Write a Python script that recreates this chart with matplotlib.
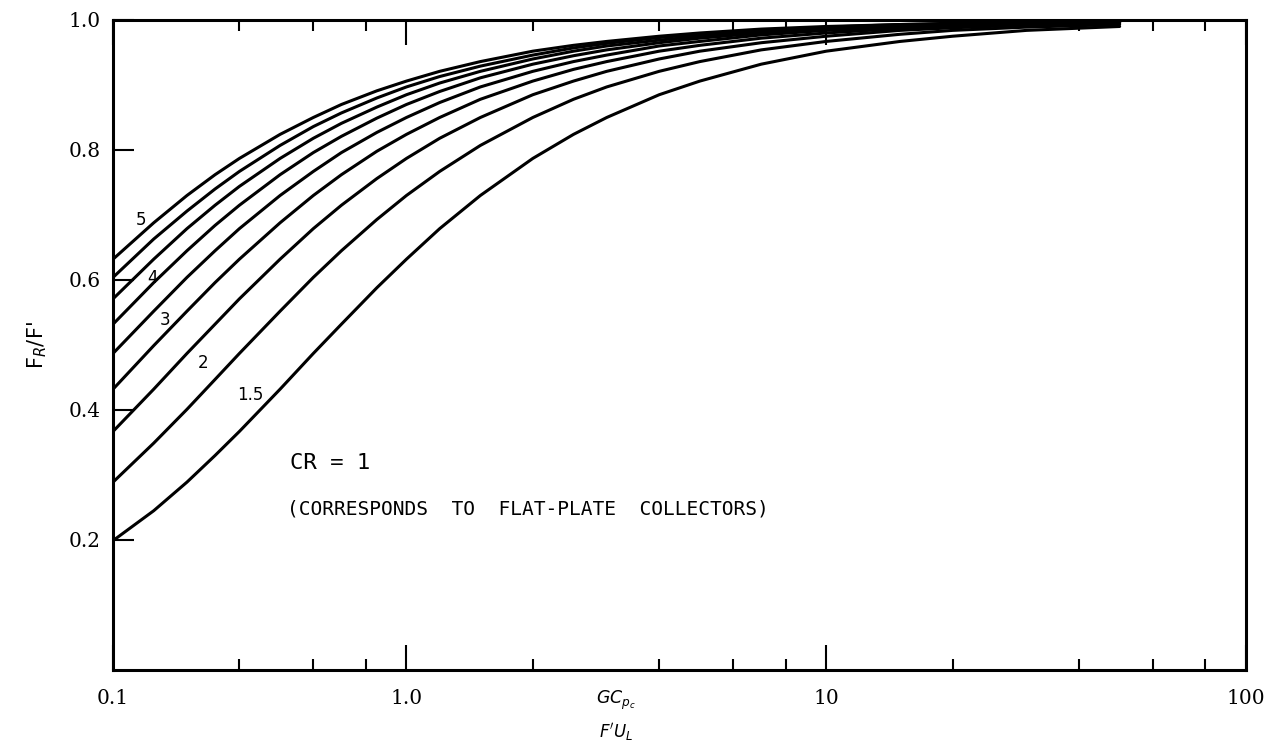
import matplotlib
matplotlib.use("Agg")
import matplotlib.pyplot as plt
from matplotlib.ticker import FixedLocator, NullFormatter

# GCp/(F'U_L) values where the curves were read
x_vals = [0.2, 0.25, 0.3, 0.35, 0.4, 0.5, 0.6, 0.7, 0.85, 1.0, 1.2, 1.5,
          2, 2.5, 3, 4, 5, 7, 10, 15, 20, 30, 50]

# F_R/F', one list per concentration ratio
cr_1 = [0.199, 0.245, 0.289, 0.330, 0.367, 0.432, 0.487, 0.532, 0.588, 0.632, 0.679, 0.730,
        0.787, 0.824, 0.850, 0.885, 0.906, 0.932, 0.952, 0.967, 0.975, 0.984, 0.990]
cr_15 = [0.289, 0.349, 0.401, 0.447, 0.487, 0.552, 0.604, 0.645, 0.693, 0.730, 0.767, 0.807,
         0.850, 0.878, 0.897, 0.921, 0.936, 0.954, 0.967, 0.978, 0.984, 0.989, 0.993]
cr_2 = [0.367, 0.432, 0.487, 0.532, 0.571, 0.632, 0.679, 0.715, 0.756, 0.787, 0.818, 0.850,
        0.885, 0.906, 0.921, 0.940, 0.952, 0.965, 0.975, 0.984, 0.988, 0.992, 0.995]
cr_25 = [0.432, 0.499, 0.552, 0.596, 0.632, 0.688, 0.730, 0.762, 0.798, 0.824, 0.850, 0.878,
         0.906, 0.924, 0.936, 0.952, 0.961, 0.972, 0.980, 0.987, 0.990, 0.993, 0.996]
cr_3 = [0.487, 0.552, 0.604, 0.645, 0.679, 0.730, 0.767, 0.796, 0.827, 0.850, 0.873, 0.897,
        0.921, 0.936, 0.946, 0.960, 0.967, 0.977, 0.984, 0.989, 0.992, 0.994, 0.997]
cr_35 = [0.532, 0.596, 0.645, 0.684, 0.715, 0.762, 0.796, 0.821, 0.849, 0.870, 0.890, 0.911,
         0.932, 0.945, 0.954, 0.965, 0.972, 0.980, 0.986, 0.991, 0.993, 0.995, 0.997]
cr_4 = [0.571, 0.632, 0.679, 0.715, 0.744, 0.787, 0.818, 0.841, 0.866, 0.885, 0.903, 0.921,
        0.940, 0.952, 0.960, 0.969, 0.975, 0.982, 0.988, 0.992, 0.994, 0.996, 0.998]
cr_45 = [0.604, 0.663, 0.706, 0.740, 0.767, 0.807, 0.836, 0.857, 0.880, 0.897, 0.913, 0.929,
         0.946, 0.957, 0.964, 0.973, 0.978, 0.984, 0.989, 0.993, 0.994, 0.996, 0.998]
cr_5 = [0.632, 0.688, 0.730, 0.762, 0.787, 0.824, 0.850, 0.870, 0.891, 0.906, 0.921, 0.936,
        0.952, 0.961, 0.967, 0.975, 0.980, 0.986, 0.990, 0.993, 0.995, 0.997, 0.998]

curves = [cr_1, cr_15, cr_2, cr_25, cr_3, cr_35, cr_4, cr_45, cr_5]

# tick labels as printed on the original
x_major = [0.2, 1, 10, 100]
x_major_labels = ["0.1", "1.0", "10", "100"]
x_minor = [0.4, 0.6, 0.8, 2, 4, 6, 8, 20, 40, 60, 80]
y_major = [0.2, 0.4, 0.6, 0.8, 1.0]
y_major_labels = ["0.2", "0.4", "0.6", "0.8", "1.0"]

# curve labels: text, x, y
curve_labels = [("5", 0.226, 0.692), ("4", 0.241, 0.603), ("3", 0.259, 0.538),
                ("2", 0.319, 0.472), ("1.5", 0.395, 0.423)]

fig = plt.figure(figsize=(12.76, 7.51), dpi=100)
ax = fig.add_axes([0.0886, 0.1079, 0.8879, 0.8655])

for c in curves:
    ax.plot(x_vals, c, color="black", lw=2.2, solid_capstyle="round")

ax.set_xscale("log")
ax.set_xlim(0.2, 100)
ax.set_ylim(0, 1.0)

ax.xaxis.set_major_locator(FixedLocator(x_major))
ax.set_xticklabels(x_major_labels, family="DejaVu Serif", fontsize=14.5)
ax.xaxis.set_minor_locator(FixedLocator(x_minor))
ax.xaxis.set_minor_formatter(NullFormatter())
ax.set_yticks(y_major)
ax.set_yticklabels(y_major_labels, family="DejaVu Serif", fontsize=14.5)

ax.tick_params(axis="x", which="major", direction="in", length=18, width=1.5,
               top=True, pad=14)
ax.tick_params(axis="x", which="minor", direction="in", length=8, width=1.5, top=True)
ax.tick_params(axis="y", which="major", direction="in", length=15, width=1.5, pad=9)
ax.tick_params(axis="y", which="minor", left=False, right=False)

for s in ax.spines.values():
    s.set_linewidth(2.2)

for txt, tx, ty in curve_labels:
    ax.text(tx, ty, txt, fontsize=12, ha="left", va="center")

ax.text(0.528, 0.318, "CR = 1", fontsize=16, ha="left", va="center",
        family="DejaVu Sans Mono")
ax.text(0.52, 0.248, "(CORRESPONDS  TO  FLAT-PLATE  COLLECTORS)", fontsize=14,
        ha="left", va="center", family="DejaVu Sans Mono")

ax.set_ylabel("F$_R$/F'", fontsize=15, labelpad=14)

fig.text(0.483, 0.068, "$GC_{p_c}$", fontsize=12.5, ha="center", va="center")
fig.text(0.483, 0.025, "$F'U_L$", fontsize=12, ha="center", va="center")

fig.savefig("out.png", dpi=100)
